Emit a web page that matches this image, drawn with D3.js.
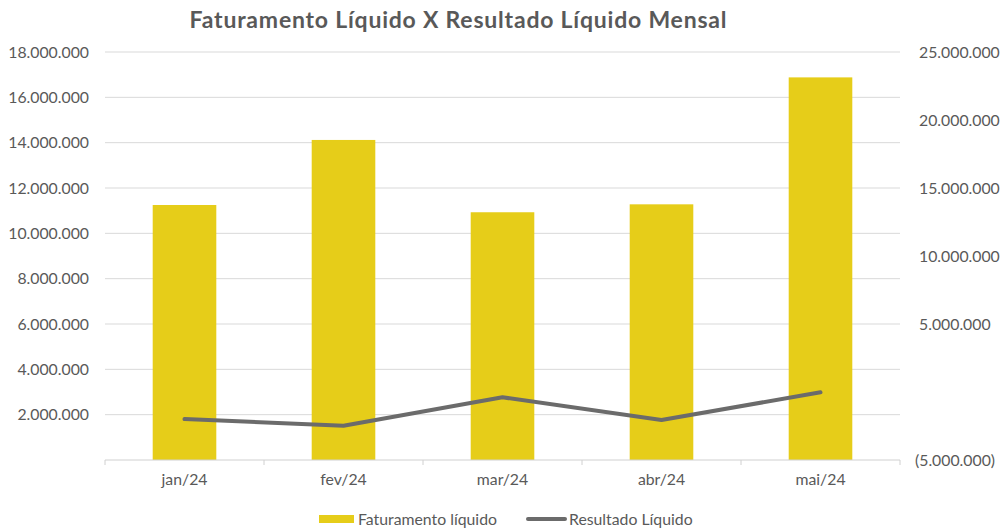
<!DOCTYPE html>
<html>
<head>
<meta charset="utf-8">
<script src="https://cdn.jsdelivr.net/npm/d3@7"></script>
<style>
  body { margin: 0; background: #fff; }
  text { font-family: Lato, "Open Sans", sans-serif; }
</style>
</head>
<body>
<div id="container"></div>
<script>
const months = ["jan/24", "fev/24", "mar/24", "abr/24", "mai/24"];
const faturamento = [11250000, 14120000, 10930000, 11280000, 16880000];
const resultado = [-1990000, -2480000, -390000, -2060000, -20000];
const leftTicks = [0, 2000000, 4000000, 6000000, 8000000, 10000000, 12000000, 14000000, 16000000, 18000000];
const rightTicks = [-5000000, 0, 5000000, 10000000, 15000000, 20000000, 25000000];

const YELLOW = "#E6CD19";
const GREY = "#6B6B6B";
const TXT = "#595959";
const FS = "15.8px";

const width = 1001, height = 532;
const m = {left: 105, right: 101, top: 52, bottom: 72};

const svg = d3.select("#container")
  .append("svg")
  .attr("width", width)
  .attr("height", height);

// number format with dots, negatives in parentheses, zero blank
const fmt = v => {
  if (v === 0) return "";
  const s = Math.abs(v).toString().replace(/\B(?=(\d{3})+(?!\d))/g, ".");
  return v < 0 ? `(${s})` : s;
};

const x = d3.scaleBand()
  .domain(months)
  .range([m.left, width - m.right])
  .paddingInner(0.6)
  .paddingOuter(0.3);

const yL = d3.scaleLinear().domain([0, 18000000]).range([height - m.bottom, m.top]);
const yR = d3.scaleLinear().domain([-5000000, 25000000]).range([height - m.bottom, m.top]);

// title
svg.append("text")
  .attr("x", 458)
  .attr("y", 28)
  .attr("text-anchor", "middle")
  .attr("font-size", "23px")
  .attr("font-weight", "bold")
  .attr("fill", TXT)
  .attr("textLength", 537)
  .attr("lengthAdjust", "spacing")
  .text("Faturamento Líquido X Resultado Líquido Mensal");

// gridlines
svg.append("g")
  .selectAll("line")
  .data(leftTicks.filter(d => d > 0))
  .join("line")
  .attr("x1", m.left)
  .attr("x2", width - m.right)
  .attr("y1", d => yL(d))
  .attr("y2", d => yL(d))
  .attr("stroke", "#d9d9d9")
  .attr("stroke-width", 1);

// left axis labels
svg.append("g")
  .selectAll("text")
  .data(leftTicks)
  .join("text")
  .attr("x", 89)
  .attr("y", d => yL(d))
  .attr("dy", "0.35em")
  .attr("text-anchor", "end")
  .attr("font-size", FS)
  .attr("fill", TXT)
  .text(d => fmt(d));

// right axis labels
svg.append("g")
  .selectAll("text")
  .data(rightTicks)
  .join("text")
  .attr("x", d => d < 0 ? 915 : 919)
  .attr("y", d => yR(d))
  .attr("dy", "0.35em")
  .attr("text-anchor", "start")
  .attr("font-size", FS)
  .attr("fill", TXT)
  .text(d => fmt(d));

// bars
svg.append("g")
  .selectAll("rect")
  .data(faturamento)
  .join("rect")
  .attr("x", (d, i) => x(months[i]))
  .attr("width", x.bandwidth())
  .attr("y", d => yL(d))
  .attr("height", d => yL(0) - yL(d))
  .attr("fill", YELLOW);

// x axis
const xAxis = d3.axisBottom(x).tickSize(0).tickPadding(14);
const gx = svg.append("g")
  .attr("transform", `translate(0,${yL(0)})`)
  .call(xAxis);
gx.select(".domain").remove();
gx.append("line")
  .attr("x1", m.left).attr("x2", width - m.right)
  .attr("stroke", "#d0d0d0");
const step = (width - m.right - m.left) / months.length;
gx.selectAll(".sep")
  .data(d3.range(months.length + 1))
  .join("line")
  .attr("class", "sep")
  .attr("x1", i => m.left + i * step)
  .attr("x2", i => m.left + i * step)
  .attr("y1", 0).attr("y2", 5)
  .attr("stroke", "#d0d0d0");
gx.selectAll(".tick text")
  .attr("font-size", FS)
  .attr("fill", TXT)
  .attr("font-family", "Lato, 'Open Sans', sans-serif");

// line
const line = d3.line()
  .x((d, i) => x(months[i]) + x.bandwidth() / 2)
  .y(d => yR(d));

svg.append("path")
  .datum(resultado)
  .attr("d", line)
  .attr("fill", "none")
  .attr("stroke", GREY)
  .attr("stroke-width", 4)
  .attr("stroke-linecap", "round")
  .attr("stroke-linejoin", "round");

// legend
const lg = svg.append("g").attr("transform", "translate(0,519)");
lg.append("rect")
  .attr("x", 319).attr("y", -4)
  .attr("width", 35).attr("height", 8)
  .attr("fill", YELLOW);
lg.append("text")
  .attr("x", 358).attr("y", 0).attr("dy", "0.35em")
  .attr("font-size", FS).attr("fill", TXT)
  .text("Faturamento líquido");
lg.append("line")
  .attr("x1", 528).attr("x2", 565)
  .attr("stroke", GREY).attr("stroke-width", 4)
  .attr("stroke-linecap", "round");
lg.append("text")
  .attr("x", 569).attr("y", 0).attr("dy", "0.35em")
  .attr("font-size", FS).attr("fill", TXT)
  .text("Resultado Líquido");
</script>
</body>
</html>
